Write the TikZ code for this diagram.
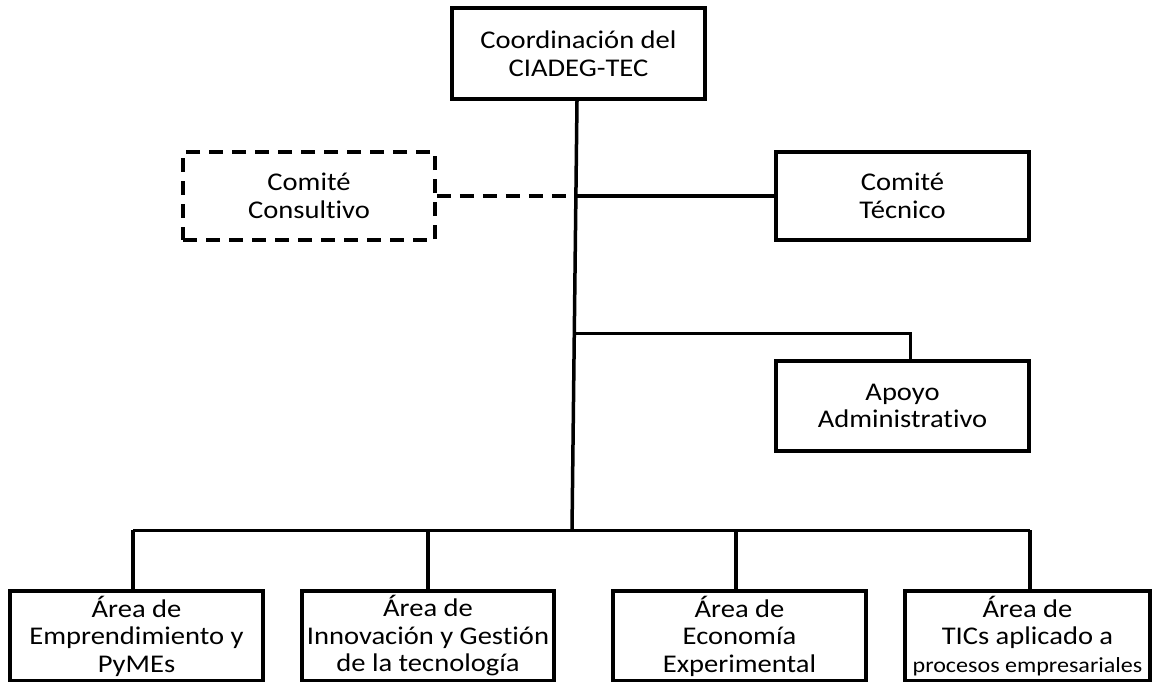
\documentclass[tikz,border=0pt]{standalone}
\usepackage{fontspec}
\setmainfont{Carlito}[FakeStretch=1.12, Ligatures=NoCommon]
\begin{document}
\begin{tikzpicture}[x=1pt,y=-1pt,
  box/.style={draw, line width=3.5pt, rectangle, inner sep=0pt,
    minimum width=253pt, minimum height=90pt, align=center,
    font=\fontsize{25.5pt}{27.5pt}\selectfont},
  dbox/.style={box, dash pattern=on 14pt off 9pt},
  conn/.style={line width=3.5pt},
  thinconn/.style={line width=3pt},
  dconn/.style={line width=3.5pt, dash pattern=on 14pt off 9pt}]
\useasboundingbox (0,0) rectangle (1153,682);

% organisation boxes
\node[box, minimum height=91pt] (coord) at (578.5,53.5) {Coordinación del\\CIADEG-TEC};
\node[dbox, minimum width=252pt, minimum height=88pt] (cons) at (309,196) {Comité\\Consultivo};
\node[box, minimum height=88pt] (tec) at (902.5,196) {Comité\\Técnico};
\node[box] (apo) at (902.5,406) {Apoyo\\Administrativo};
\node[box] (a1) at (136.5,636) {Área de\\Emprendimiento y\\PyMEs};
\node[box, minimum width=252pt] (a2) at (428,636) {Área de\\Innovación y Gestión\\de la tecnología};
\node[box] (a3) at (739.5,636) {Área de\\Economía\\Experimental};
\node[box, minimum width=245pt] (a4) at (1027.5,636) {Área de\\TICs aplicado a\\{\fontsize{21.5pt}{27.5pt}\selectfont procesos empresariales}};

% trunk and junctions
\coordinate (bus) at (572,530);
\coordinate (j1) at (576,196);
\coordinate (j2) at (574,333);
\draw[conn] ([xshift=-1.5pt]coord.south) -- (bus);

\draw[dconn] (cons.east) -- (j1);
\draw[conn] (j1) -- (tec.west);
\draw[thinconn] (j2) -| ([xshift=7.5pt]apo.north);

% bus to the areas
\draw[thinconn] ([xshift=-3.5pt]a1.north |- bus) -- ([xshift=2.5pt]a4.north |- bus);
\draw[conn] ([xshift=-3.5pt]a1.north |- bus) -- ([xshift=-3.5pt]a1.north);
\draw[conn] (a2.north |- bus) -- (a2.north);
\draw[conn] ([xshift=-3.5pt]a3.north |- bus) -- ([xshift=-3.5pt]a3.north);
\draw[conn] ([xshift=2.5pt]a4.north |- bus) -- ([xshift=2.5pt]a4.north);
\end{tikzpicture}
\end{document}
